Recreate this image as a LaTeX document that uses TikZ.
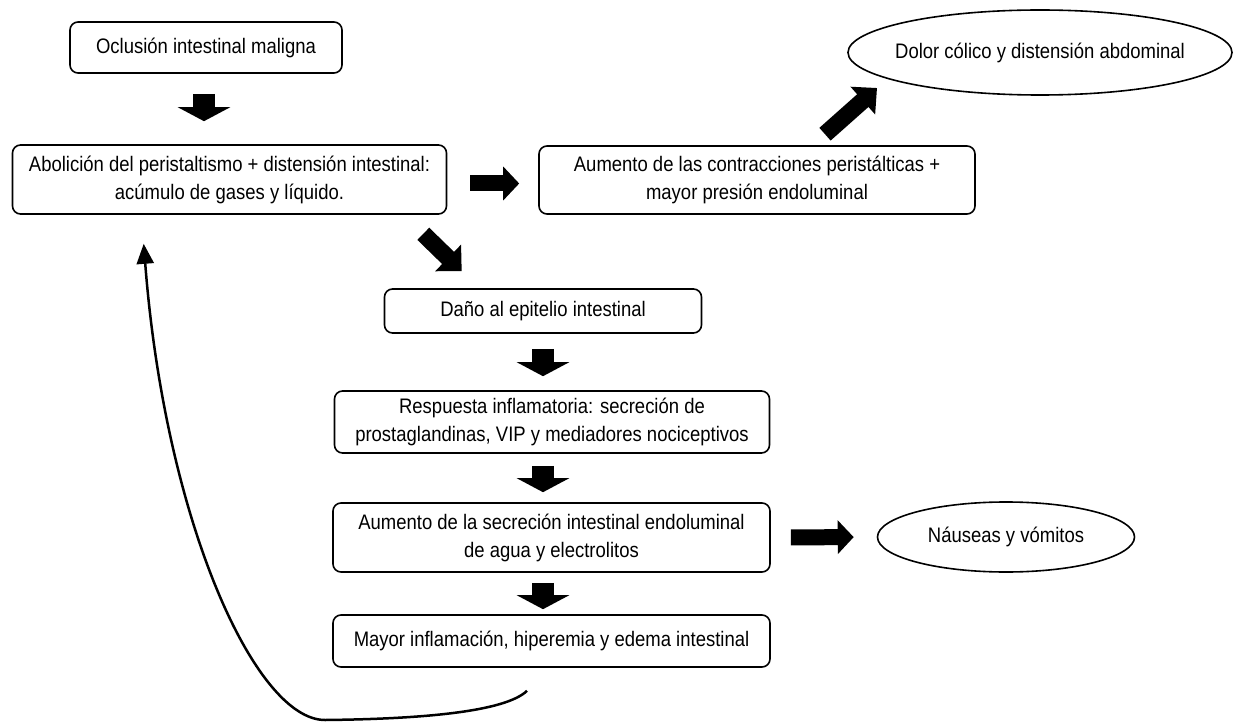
\documentclass[tikz,border=0pt]{standalone}
\usepackage{fontspec}
\setmainfont[FakeStretch=0.88]{Liberation Sans}
\usetikzlibrary{arrows.meta,shapes.geometric}

\begin{document}
\begin{tikzpicture}[x=1pt, y=-1pt,
    box/.style={draw, line width=1.6pt, rounded corners=8pt, align=center, inner sep=0pt,
      font=\fontsize{21}{28}\selectfont},
    oval/.style={draw, ellipse, line width=1.6pt, inner sep=0pt,
      font=\fontsize{21}{28}\selectfont},
    fatdown/.style={line width=22pt, -{Triangle[width=52pt,length=14pt]}},
    fatside/.style={line width=16pt, -{Triangle[width=33pt,length=16pt]}},
    fatdiag/.style={line width=17pt, -{Triangle[width=36pt,length=19pt]}},
    loopback/.style={line width=2.5pt, -{Triangle[width=17pt,length=20pt]}}
]
\useasboundingbox (0,0) rectangle (1234,722);

% cajas
\node[box, minimum width=272, minimum height=51] (ocl) at (206,47.5) {Oclusión intestinal maligna};
\node[box, minimum width=434, minimum height=69] (abol) at (229.5,179.5)
  {Abolición del peristaltismo + distensión intestinal:\\acúmulo de gases y líquido.};
\node[box, minimum width=436, minimum height=68] (contr) at (757,180)
  {Aumento de las contracciones peristálticas +\\mayor presión endoluminal};
\node[oval, minimum width=384, minimum height=85] (dolor) at (1040,52.5)
  {\makebox[0pt]{Dolor cólico y distensión abdominal}};
\node[box, minimum width=317, minimum height=44] (dano) at (543,311) {Daño al epitelio intestinal};
\node[box, minimum width=435, minimum height=62] (resp) at (552,422)
  {Respuesta inflamatoria: secreción de\\prostaglandinas, VIP y mediadores nociceptivos};
\node[box, minimum width=437, minimum height=69] (secr) at (551.5,537.5)
  {Aumento de la secreción intestinal endoluminal\\de agua y electrolitos};
\node[oval, minimum width=257, minimum height=70] (naus) at (1006,537)
  {\makebox[0pt]{Náuseas y vómitos}};
\node[box, minimum width=437, minimum height=52] (mayor) at (551.5,641)
  {Mayor inflamación, hiperemia y edema intestinal};

% flechas gruesas
\draw[fatdown, shorten <=20pt, shorten >=23pt] ([xshift=-2pt]ocl.south) -- ([xshift=-2pt]ocl.south |- abol.north);
\draw[fatside, shorten <=23pt, shorten >=19pt] ([yshift=-4pt]abol.east) -- ([yshift=-4pt]abol.east -| contr.west);
\draw[fatdiag] ([shift={(68,-11)}]contr.north) -- ([shift={(-163,35.5)}]dolor.center);
\draw[fatdiag] ([shift={(-24,19)}]abol.south east) -- ([shift={(78,-17)}]dano.north west);
\draw[fatdown, shorten <=15pt, shorten >=14pt] (dano.south) -- (dano.south |- resp.north);
\draw[fatdown, shorten <=12pt, shorten >=10pt] (dano.south |- resp.south) -- (dano.south |- secr.north);
\draw[fatdown, shorten <=10pt, shorten >=5pt] (dano.south |- secr.south) -- (dano.south |- mayor.north);
\draw[fatside, shorten <=20pt, shorten >=23pt] (secr.east) -- (naus.west);

% retroalimentacion
\draw[loopback] ([shift={(-24.5,23)}]mayor.south) .. controls (505,712) and (420,719) .. (325,720)
  .. controls (255,720) and (165,520) .. ([shift={(132,29)}]abol.south west);

\end{tikzpicture}
\end{document}
